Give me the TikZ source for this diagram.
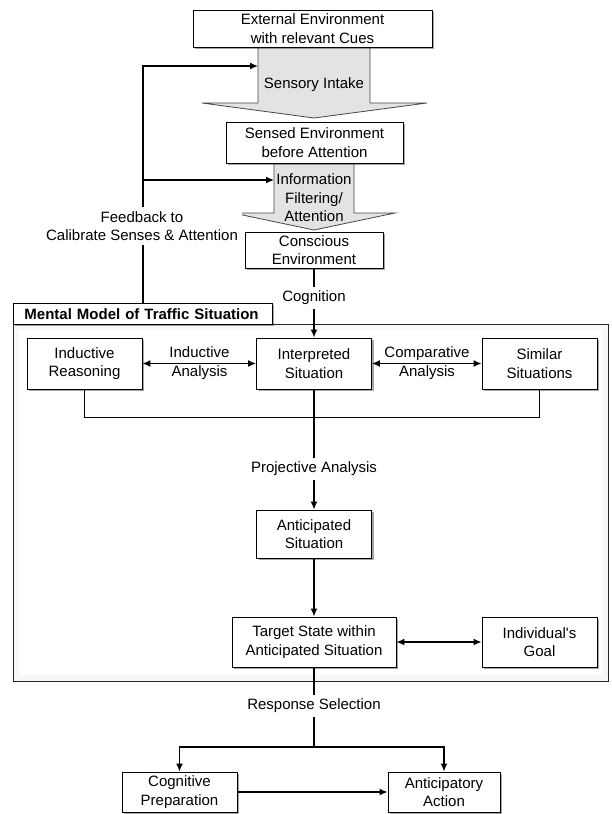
\documentclass[tikz,border=0pt]{standalone}
\usepackage{fontspec}
\setmainfont{Liberation Sans}
\usetikzlibrary{arrows.meta,shadows}
\begin{document}
\begin{tikzpicture}[x=1pt,y=-1pt,
 font=\fontsize{15}{18.5}\selectfont,
 box/.style={draw=black, line width=0.9pt, fill=white, align=center, inner sep=0pt,
   drop shadow={shadow xshift=2pt, shadow yshift=-2pt, opacity=0.35, fill=black}},
 lbl/.style={align=center, inner sep=4pt},
 conn/.style={line width=1.4pt},
 arr/.style={conn, -{Latex[length=8pt,width=7pt]}},
 darr/.style={conn, {Latex[length=8pt,width=7pt]}-{Latex[length=8pt,width=7pt]}},
 bigarrow/.style={fill=gray!22, draw=gray!55!black, line width=0.8pt},
 frame/.style={draw=black!85, line width=0.9pt}]
\useasboundingbox (0,0) rectangle (611,814);

% big shaded arrows
\draw[bigarrow] (258,47) -- (258,103) -- (202,103) -- (314,118) -- (427,103) -- (370,103) -- (370,47);
\draw[bigarrow] (274,163) -- (274,213) -- (233,213) -- (314,230) -- (395,213) -- (354,213) -- (354,163);

% mental model frame
\draw[black!3, line width=6pt] (16,327) rectangle (605,678);
\node[frame, anchor=north west, minimum width=595pt, minimum height=357pt, inner sep=0pt] (mm) at (13,324) {};
\node[box, anchor=north west, align=left, text width=237pt, inner xsep=11pt, inner ysep=0pt,
  minimum height=21pt, font=\fontsize{15}{18.5}\selectfont\bfseries] (mmlabel) at (13,303) {Mental Model of Traffic Situation};

% boxes
\node[box, minimum width=239pt, minimum height=37pt] (ext) at (312.5,28.5) {External Environment\\with relevant Cues};
\node[box, minimum width=177pt, minimum height=41pt] (sensed) at (314.5,142.5) {Sensed Environment\\before Attention};
\node[box, minimum width=138pt, minimum height=36pt] (consc) at (314,250) {Conscious\\Environment};
\node[box, minimum width=115pt, minimum height=51pt] (induct) at (84.5,363.5) {Inductive\\Reasoning};
\node[box, minimum width=115pt, minimum height=51pt] (interp) at (314,363.5) {Interpreted\\Situation};
\node[box, minimum width=115pt, minimum height=51pt] (similar) at (539.5,363.5) {Similar\\Situations};
\node[box, minimum width=115pt, minimum height=48pt] (antic) at (314,534) {Anticipated\\Situation};
\node[box, minimum width=164pt, minimum height=50pt] (target) at (314,642) {Target State within\\Anticipated Situation};
\node[box, minimum width=115pt, minimum height=50pt] (goal) at (539.5,642) {Individual\textquotesingle s\\Goal};
\node[box, minimum width=115pt, minimum height=40pt] (cogprep) at (179.5,792) {Cognitive\\Preparation};
\node[box, minimum width=112pt, minimum height=40pt] (antact) at (444,792) {Anticipatory\\Action};

% labels
\node[lbl] (sens) at (314,85) {Sensory Intake};
\node[lbl] (filt) at (314,198) {Information\\Filtering/\\Attention};
\node[lbl, fill=white] (fb) at (142,226) {Feedback to\\Calibrate Senses \& Attention};
\node[lbl] (cog) at (314,298) {Cognition};
\node[lbl] (indan) at (199.5,363) {Inductive\\Analysis};
\node[lbl] (compan) at (427,363) {Comparative\\Analysis};
\node[lbl] (proj) at (314,469) {Projective Analysis};
\node[lbl] (resp) at (314,706) {Response Selection};

% feedback connectors
\coordinate (fbbot) at (143,303);
\coordinate (fbtop) at (143,66);
\coordinate (fbmid) at (143,180);
\coordinate (s1w) at (258,66);
\coordinate (s2w) at (274,180);
\draw[conn] (fbbot) -- (fb.south -| fbbot);
\draw[arr] (fb.north -| fbbot) -- (fbtop) -- (s1w);
\draw[arr] (fbmid) -- (s2w);

% main flow
\draw[conn] (consc) -- (cog);
\draw[arr] (cog) -- (interp);
\draw[darr] (induct) -- (interp);
\draw[darr] (interp) -- (similar);
\draw[conn] (induct.south) -- ++(0,28) -| (similar.south);
\draw[conn] (interp) -- (proj);
\draw[arr] (proj) -- (antic);
\draw[arr] (antic) -- (target);
\draw[darr] (target) -- (goal);
\draw[conn] (target) -- (resp);
\coordinate (split) at (314,747);
\draw[conn] (resp) -- (split);
\draw[arr] (split) -| (cogprep);
\draw[arr] (split) -| (antact);
\draw[arr] (cogprep) -- (antact);
\end{tikzpicture}
\end{document}
